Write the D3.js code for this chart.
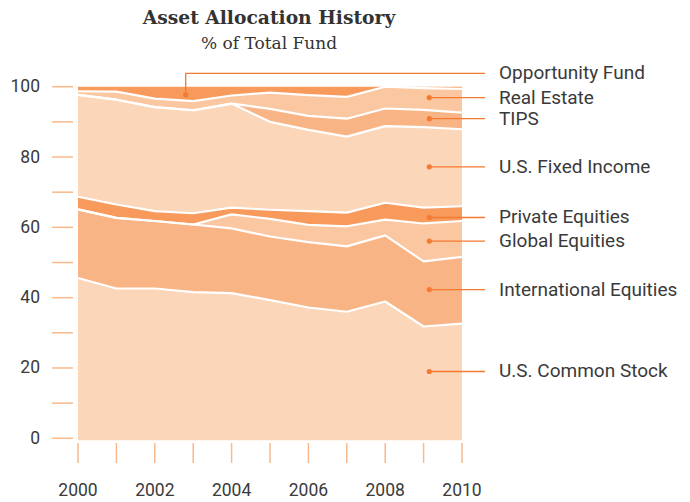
<!DOCTYPE html>
<html>
<head>
<meta charset="utf-8">
<script src="https://cdn.jsdelivr.net/npm/d3@7"></script>
<style>
  body { margin: 0; background: #fff; }
  svg text { fill: #3a3a3a; }
</style>
</head>
<body>
<div id="chart"></div>
<script>
// Years on the x axis
const years = [2000, 2001, 2002, 2003, 2004, 2005, 2006, 2007, 2008, 2009, 2010];

// Series, bottom of the stack first (% of total fund)
const commonStock   = [45.6, 42.6, 42.6, 41.6, 41.3, 39.3, 37.2, 36.0, 38.9, 31.8, 32.6];
const international = [19.5, 20.1, 19.2, 19.2, 18.4, 18.1, 18.6, 18.6, 18.8, 18.5, 19.0];
const globalEq      = [0, 0, 0, 0, 4.0, 5.0, 4.9, 5.7, 4.5, 10.8, 10.2];
const privateEq     = [3.6, 3.8, 2.8, 3.2, 1.9, 2.6, 3.9, 3.9, 4.8, 4.5, 4.2];
const fixedIncome   = [29.0, 29.8, 29.6, 29.3, 29.6, 25.0, 23.1, 21.6, 21.8, 22.9, 21.9];
const tips          = [0, 0, 0, 0, 0, 3.7, 4.0, 5.1, 5.0, 4.9, 4.7];
const realEstate    = [1.0, 2.3, 2.4, 2.6, 2.3, 4.6, 5.9, 6.2, 6.2, 6.2, 6.8];
const opportunity   = [1.3, 1.4, 3.4, 4.1, 2.5, 1.7, 2.4, 2.9, 0, 0.4, 0.6];

const seriesNames = [
  "U.S. Common Stock", "International Equities", "Global Equities",
  "Private Equities", "U.S. Fixed Income", "TIPS", "Real Estate", "Opportunity Fund",
];
const seriesValues = [commonStock, international, globalEq, privateEq,
  fixedIncome, tips, realEstate, opportunity];

// Where each label's leader dot sits (value on the y axis)
const labelValues = [19, 42.3, 56.1, 62.8, 77.2, 90.9, 96.9, 97.7];

const yTicks = [0, 10, 20, 30, 40, 50, 60, 70, 80, 90, 100];
const yLabels = [0, 20, 40, 60, 80, 100];
const xLabels = [2000, 2002, 2004, 2006, 2008, 2010];

const fills = ["#fcd6b8", "#f9b485", "#fbc7a1", "#f79a5c",
  "#fcd6b8", "#f9b485", "#fbc7a1", "#f79a5c"];

const width = 690, height = 502;
const svg = d3.select("#chart").append("svg")
  .attr("width", width).attr("height", height);

const x = d3.scaleLinear().domain([2000, 2010]).range([78, 462]);
const y = d3.scaleLinear().domain([0, 100]).range([438.3, 86.7]);

// Build rows for the stack
const rows = years.map((yr, i) => {
  const row = { year: yr };
  seriesNames.forEach((n, k) => (row[n] = seriesValues[k][i]));
  return row;
});
const stacked = d3.stack().keys(seriesNames)(rows);

// Bottom layer reaches a hair below the zero tick, as in the original
const area = d3.area()
  .x((d) => x(d.data.year))
  .y0((d) => (d[0] === 0 ? y(d[0]) + 2 : y(d[0])))
  .y1((d) => y(d[1]));

svg.append("g")
  .selectAll("path")
  .data(stacked)
  .join("path")
  .attr("d", area)
  .attr("fill", (d, i) => fills[i]);

// White separators on the top edge of every layer but the last
const topLine = d3.line()
  .x((d) => x(d.data.year))
  .y((d) => y(d[1]));

svg.append("g")
  .selectAll("path")
  .data(stacked.slice(0, -1))
  .join("path")
  .attr("d", topLine)
  .attr("fill", "none")
  .attr("stroke", "#fff")
  .attr("stroke-width", 2.2)
  .attr("stroke-linejoin", "round");

// Left axis: ticks and labels
const tickColor = "#f9b98a";
svg.append("g")
  .selectAll("line")
  .data(yTicks)
  .join("line")
  .attr("x1", 52).attr("x2", 73)
  .attr("y1", (d) => y(d)).attr("y2", (d) => y(d))
  .attr("stroke", tickColor).attr("stroke-width", 1.5);

svg.append("g")
  .selectAll("text")
  .data(yLabels)
  .join("text")
  .attr("x", 40)
  .attr("y", (d) => y(d) + 5.5)
  .attr("text-anchor", "end")
  .style("font", "17.5px Roboto")
  .text((d) => d);

// Bottom axis
svg.append("g")
  .selectAll("line")
  .data(years)
  .join("line")
  .attr("x1", (d) => x(d)).attr("x2", (d) => x(d))
  .attr("y1", 443).attr("y2", 463)
  .attr("stroke", tickColor).attr("stroke-width", 1.5);

svg.append("g")
  .selectAll("text")
  .data(xLabels)
  .join("text")
  .attr("x", (d) => x(d))
  .attr("y", 495.5)
  .attr("text-anchor", "middle")
  .style("font", "17.5px Roboto")
  .text((d) => d);

// Labels with leader lines
const dotColor = "#f47a32";
const labelX = 499, lineEnd = 485, dotX = 429.3;
const labelFont = "19px Roboto";
const labels = svg.append("g");
seriesNames.forEach((name, i) => {
  const yy = y(labelValues[i]);
  if (name === "Opportunity Fund") {
    const dx = 185.7, ly = 73.3;
    labels.append("path")
      .attr("d", `M${dx},${yy}V${ly}H${lineEnd}`)
      .attr("fill", "none").attr("stroke", dotColor).attr("stroke-width", 1.3);
    labels.append("circle").attr("cx", dx).attr("cy", yy).attr("r", 2.6).attr("fill", dotColor);
    labels.append("text").attr("x", labelX).attr("y", ly + 6)
      .style("font", labelFont).text(name);
  } else {
    labels.append("line")
      .attr("x1", dotX).attr("x2", lineEnd).attr("y1", yy).attr("y2", yy)
      .attr("stroke", dotColor).attr("stroke-width", 1.3);
    labels.append("circle").attr("cx", dotX).attr("cy", yy).attr("r", 2.6).attr("fill", dotColor);
    labels.append("text").attr("x", labelX).attr("y", yy + 6)
      .style("font", labelFont).text(name);
  }
});

// Title
svg.append("text")
  .attr("x", 269).attr("y", 24)
  .attr("text-anchor", "middle")
  .style("font", "bold 18.7px 'DejaVu Serif'")
  .style("fill", "#333")
  .text("Asset Allocation History");

svg.append("text")
  .attr("x", 269).attr("y", 49)
  .attr("text-anchor", "middle")
  .style("font", "17px 'DejaVu Serif'")
  .style("fill", "#333")
  .text("% of Total Fund");
</script>
</body>
</html>
